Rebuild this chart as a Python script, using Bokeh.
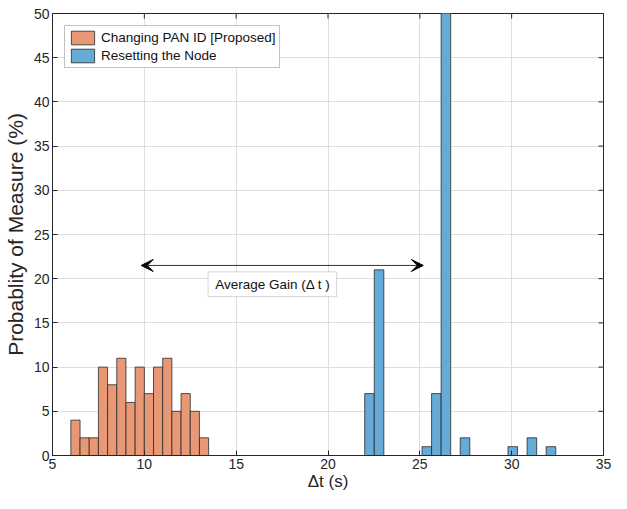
from math import pi
from bokeh.plotting import figure
from bokeh.models import (ColumnDataSource, Range1d, FixedTicker, Arrow,
                          VeeHead, BoxAnnotation, Label, Legend, LegendItem)
from bokeh.embed import file_html
from bokeh.resources import INLINE

# ---- data ----
orange_left = [6.0, 6.5, 7.0, 7.5, 8.0, 8.5, 9.0, 9.5, 10.0, 10.5, 11.0, 11.5, 12.0, 12.5, 13.0]
orange_right = [6.5, 7.0, 7.5, 8.0, 8.5, 9.0, 9.5, 10.0, 10.5, 11.0, 11.5, 12.0, 12.5, 13.0, 13.5]
orange_pct = [4, 2, 2, 10, 8, 11, 6, 10, 7, 10, 11, 5, 7, 5, 2]

blue_left = [22.00, 22.52, 23.04, 23.56, 24.08, 24.60, 25.12, 25.64, 26.16, 26.68,
             27.20, 27.72, 28.24, 28.76, 29.28, 29.80, 30.32, 30.84, 31.36, 31.88]
blue_right = [22.52, 23.04, 23.56, 24.08, 24.60, 25.12, 25.64, 26.16, 26.68, 27.20,
              27.72, 28.24, 28.76, 29.28, 29.80, 30.32, 30.84, 31.36, 31.88, 32.40]
blue_pct = [7, 21, 0, 0, 0, 0, 1, 7, 58, 0, 2, 0, 0, 0, 0, 1, 0, 2, 0, 1]

x_ticks = [5, 10, 15, 20, 25, 30, 35]
y_ticks = [0, 5, 10, 15, 20, 25, 30, 35, 40, 45, 50]

series_names = ["Changing PAN ID [Proposed]", "Resetting the Node"]

# annotation (data coordinates)
gain_arrow_x = [9.83, 25.19]
gain_arrow_y = 21.5
gain_box = dict(left=13.47, right=20.47, bottom=17.97, top=20.77)
gain_text = "Average Gain (\u0394 t )"

FONT = "Liberation Sans"
AX = "#262626"

p = figure(width=611, height=493, output_backend="svg", toolbar_location=None,
           x_range=Range1d(x_ticks[0], x_ticks[-1]), y_range=Range1d(y_ticks[0], y_ticks[-1]),
           min_border_left=52, min_border_right=8, min_border_top=13, min_border_bottom=38)
p.background_fill_color = "white"
p.border_fill_color = "white"
p.outline_line_color = AX
p.outline_line_width = 1

src_o = ColumnDataSource(dict(left=orange_left, right=orange_right, top=orange_pct))
src_b = ColumnDataSource(dict(left=blue_left, right=blue_right, top=blue_pct))

r_o = p.quad(left="left", right="right", top="top", bottom=0, source=src_o,
             fill_color="#E89875", line_color="#2a2a2a", line_width=0.8)
r_b = p.quad(left="left", right="right", top="top", bottom=0, source=src_b,
             fill_color="#66AAD7", line_color="#2a2a2a", line_width=0.8)

# axes
for ax in (p.xaxis[0], p.yaxis[0]):
    ax.major_tick_in = 5
    ax.major_tick_out = 0
    ax.minor_tick_in = 0
    ax.minor_tick_out = 0
    ax.axis_line_color = AX
    ax.major_tick_line_color = AX
    ax.major_label_text_font = FONT
    ax.major_label_text_font_size = "14px"
    ax.major_label_text_color = AX
    ax.axis_label_text_font = FONT
    ax.axis_label_text_font_style = "normal"
    ax.axis_label_text_color = AX

p.xaxis[0].ticker = FixedTicker(ticks=x_ticks)
p.yaxis[0].ticker = FixedTicker(ticks=y_ticks)
p.xaxis[0].axis_label = "\u0394t (s)"
p.yaxis[0].axis_label = "Probablity of Measure (%)"
p.xaxis[0].axis_label_text_font_size = "17px"
p.yaxis[0].axis_label_text_font_size = "21px"
p.xaxis[0].major_label_standoff = 3
p.yaxis[0].major_label_standoff = 3
p.xaxis[0].axis_label_standoff = 0
p.yaxis[0].axis_label_standoff = 4

p.xgrid.ticker = FixedTicker(ticks=x_ticks)
p.ygrid.ticker = FixedTicker(ticks=y_ticks)
p.grid.grid_line_color = "#dedede"
p.grid.grid_line_width = 1

# inward tick marks on the top and right frame edges (half of each dash is clipped by the frame)
p.scatter(x=x_ticks, y=[y_ticks[-1]] * len(x_ticks), marker="dash", angle=pi / 2,
          size=10, line_color=AX, line_width=1)
p.scatter(x=[x_ticks[-1]] * len(y_ticks), y=y_ticks, marker="dash",
          size=10, line_color=AX, line_width=1)

# annotation
p.add_layout(Arrow(start=VeeHead(size=12, fill_color="black", line_color="black"),
                   end=VeeHead(size=12, fill_color="black", line_color="black"),
                   x_start=gain_arrow_x[0], y_start=gain_arrow_y,
                   x_end=gain_arrow_x[1], y_end=gain_arrow_y,
                   line_color="#333333", line_width=1))
p.add_layout(BoxAnnotation(fill_color="white", fill_alpha=1.0, line_color="#777777",
                           line_width=1, **gain_box))
p.add_layout(Label(x=gain_box["left"] + 0.39, y=(gain_box["bottom"] + gain_box["top"]) / 2,
                   text=gain_text, text_baseline="middle", text_align="left",
                   text_font=FONT, text_font_size="13.5px", text_color="#111111"))

legend = Legend(items=[LegendItem(label=series_names[0], renderers=[r_o]),
                       LegendItem(label=series_names[1], renderers=[r_b])],
                location="top_left", margin=12, padding=3, spacing=1,
                glyph_width=29, glyph_height=17, label_height=17, label_standoff=4,
                label_text_font=FONT, label_text_font_size="13.5px", label_text_color="#111111",
                border_line_color="#888888", border_line_width=1,
                background_fill_color="white", background_fill_alpha=1.0)
p.add_layout(legend, "center")

open("out.html", "w").write(file_html(p, INLINE))
